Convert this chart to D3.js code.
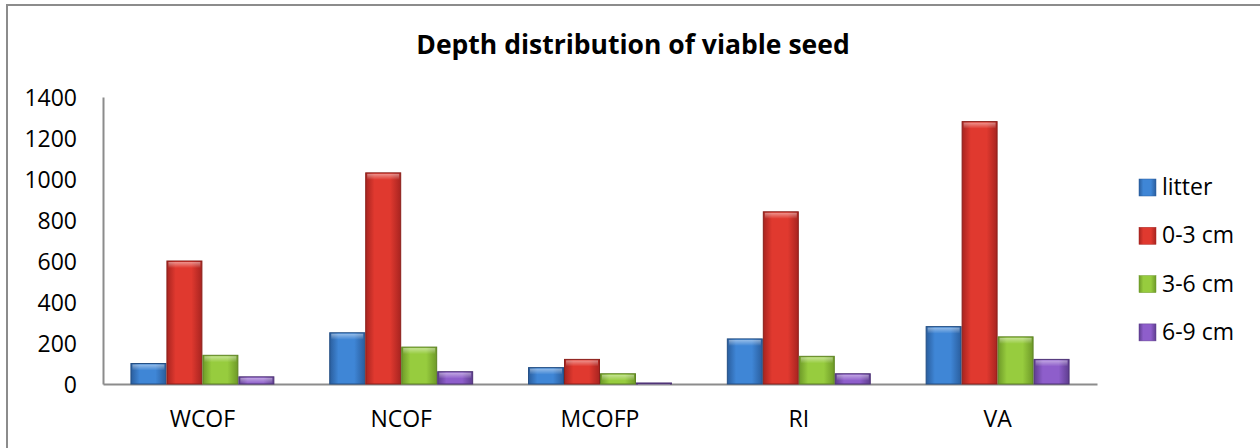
<!DOCTYPE html>
<html>
<head>
<meta charset="utf-8">
<script src="https://cdn.jsdelivr.net/npm/d3@7"></script>
<style>
  body { margin: 0; background: #fff; }
  text { font-family: "Open Sans", "Noto Sans", sans-serif; fill: #000; }
</style>
</head>
<body>
<script>
const sites = ['WCOF', 'NCOF', 'MCOFP', 'RI', 'VA'];
const depths = ['litter', '0-3 cm', '3-6 cm', '6-9 cm'];
const litter = [100, 250, 80, 220, 280];
const cm0to3 = [600, 1030, 120, 840, 1280];
const cm3to6 = [140, 180, 50, 135, 230];
const cm6to9 = [35, 60, 5, 50, 120];
const yTicks = [0, 200, 400, 600, 800, 1000, 1200, 1400];

const seriesValues = [litter, cm0to3, cm3to6, cm6to9];
const colors = [
  { mid: '#3f86d6', edge: '#2a5e9e', stroke: '#244f84' },
  { mid: '#e0392f', edge: '#a82420', stroke: '#8a1f1a' },
  { mid: '#97cc3e', edge: '#6e9a28', stroke: '#5d8223' },
  { mid: '#8e5ecb', edge: '#5e3d8f', stroke: '#4d3275' }
];

const width = 1260, height = 448;

const svg = d3.select('body').append('svg')
  .attr('width', width)
  .attr('height', height)

const defs = svg.append('defs')
colors.forEach((c, i) => {
  const g = defs.append('linearGradient')
    .attr('id', 'grad' + i)
    .attr('x1', '0').attr('x2', '1').attr('y1', '0').attr('y2', '0')
  g.append('stop').attr('offset', '0%').attr('stop-color', c.edge)
  g.append('stop').attr('offset', '25%').attr('stop-color', c.mid)
  g.append('stop').attr('offset', '70%').attr('stop-color', c.mid)
  g.append('stop').attr('offset', '100%').attr('stop-color', c.edge)
})
const hi = defs.append('linearGradient')
  .attr('id', 'hilite')
  .attr('x1', '0').attr('x2', '0').attr('y1', '0').attr('y2', '1')
hi.append('stop').attr('offset', '0%').attr('stop-color', '#fff').attr('stop-opacity', 0.45)
hi.append('stop').attr('offset', '100%').attr('stop-color', '#fff').attr('stop-opacity', 0)

// outer frame
svg.append('rect')
  .attr('x', 7).attr('y', 5)
  .attr('width', width).attr('height', height)
  .attr('fill', 'none')
  .attr('stroke', '#8c8c8c')
  .attr('stroke-width', 2)

svg.append('text')
  .attr('x', 633).attr('y', 54)
  .attr('text-anchor', 'middle')
  .attr('font-size', 26.5)
  .attr('font-weight', 'bold')
  .text('Depth distribution of viable seed')

const x0 = d3.scaleBand()
  .domain(sites)
  .range([103, 1097])
  .paddingInner(0.276)
  .paddingOuter(0.138)

const x1 = d3.scaleBand()
  .domain(depths)
  .range([0, x0.bandwidth()])

const y = d3.scaleLinear()
  .domain([0, 1400])
  .range([384, 97])

// y axis
const yAxis = svg.append('g')
  .attr('transform', 'translate(103,0)')
  .call(d3.axisLeft(y).tickValues(yTicks).tickFormat(d3.format('d')).tickSize(0).tickPadding(26))
yAxis.select('.domain').attr('stroke', '#8c8c8c').attr('stroke-width', 2)
yAxis.selectAll('text')
  .attr('font-size', 23)
  .attr('dy', '0.35em')
  .attr('fill', '#000')
  .style('font-family', '"Open Sans", sans-serif')

// x axis
const xAxis = svg.append('g')
  .attr('transform', 'translate(0,384)')
  .call(d3.axisBottom(x0).tickSize(0).tickPadding(27))
xAxis.select('.domain').attr('stroke', '#8c8c8c').attr('stroke-width', 2)
xAxis.selectAll('text')
  .attr('font-size', 23)
  .attr('fill', '#000')
  .style('font-family', '"Open Sans", sans-serif')

const groups = svg.selectAll('.site')
  .data(sites)
  .enter().append('g')
  .attr('class', 'site')
  .attr('transform', d => 'translate(' + x0(d) + ',0)')

groups.each(function(site, si) {
  const g = d3.select(this)
  depths.forEach((dep, di) => {
    const v = seriesValues[di][si]
    const bx = x1(dep)
    const by = y(v)
    const bh = y(0) - y(v)
    g.append('rect')
      .attr('x', bx + 0.5).attr('y', by)
      .attr('width', x1.bandwidth() - 1).attr('height', bh)
      .attr('fill', 'url(#grad' + di + ')')
      .attr('stroke', colors[di].stroke)
      .attr('stroke-width', 1)
    g.append('rect')
      .attr('x', bx + 2).attr('y', by + 1)
      .attr('width', x1.bandwidth() - 4).attr('height', Math.min(6, bh))
      .attr('fill', 'url(#hilite)')
  })
})

// legend
const legend = svg.selectAll('.legend')
  .data(depths)
  .enter().append('g')
  .attr('class', 'legend')
  .attr('transform', (d, i) => 'translate(1139,' + (187 + i * 48.3) + ')')

legend.append('rect')
  .attr('x', 0).attr('y', -8)
  .attr('width', 17).attr('height', 17)
  .attr('fill', (d, i) => 'url(#grad' + i + ')')
  .attr('stroke', (d, i) => colors[i].edge)
  .attr('stroke-width', 0.5)

legend.append('text')
  .attr('x', 23).attr('y', 0)
  .attr('dy', '0.35em')
  .attr('font-size', 23)
  .text(d => d)
</script>
</body>
</html>
